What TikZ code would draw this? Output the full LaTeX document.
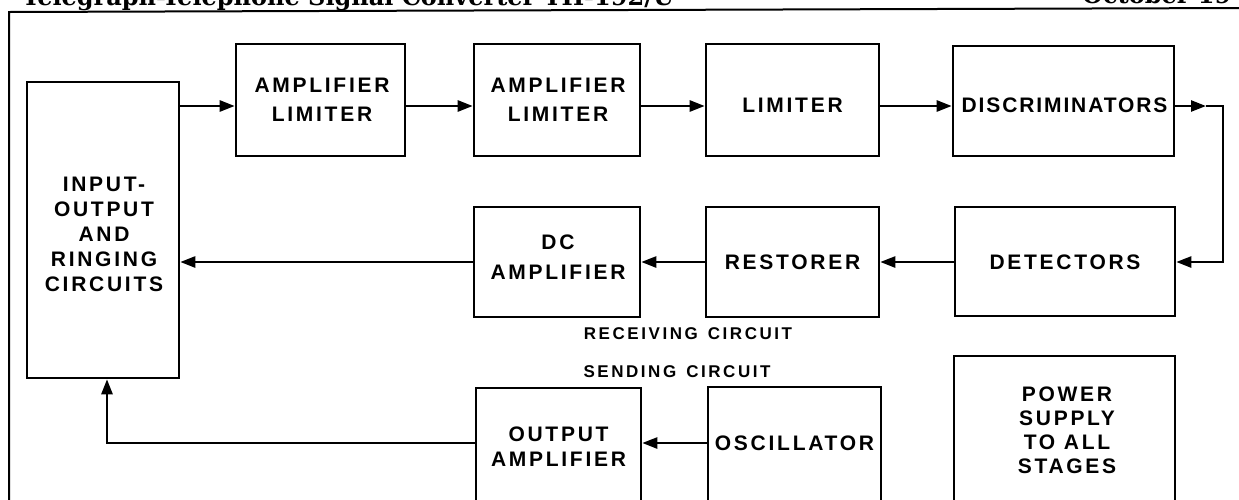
\documentclass[tikz,border=0pt]{standalone}
\usepackage{fontspec}
\usetikzlibrary{arrows.meta}
\newfontfamily\lblfont[LetterSpace=13]{Liberation Sans}
\newfontfamily\discfont[LetterSpace=9]{Liberation Sans}
\newfontfamily\smlfont[LetterSpace=15]{Liberation Sans}
\newfontfamily\headfont{DejaVu Serif}
\tikzset{
  box/.style={draw, rectangle, line width=2.6pt, inner sep=0pt},
  lbl/.style={align=center, inner sep=0pt, font=\lblfont\bfseries\fontsize{21}{#1}\selectfont},
  lbl/.default=29,
  slbl/.style={inner sep=0pt, font=\smlfont\bfseries\fontsize{17}{20}\selectfont},
  conn/.style={line width=2.5pt},
  arr/.tip={Triangle[length=15pt,width=11pt]},
  frame/.style={line width=2pt},
  head/.style={anchor=base west, inner sep=0pt, font=\headfont\bfseries\fontsize{24}{24}\selectfont}
}
\begin{document}
\begin{tikzpicture}[x=1pt,y=-1pt]
\useasboundingbox (0,0) rectangle (1239,499);
% frame
\coordinate (f1) at (9,520);
\coordinate (f2) at (9,12);
\coordinate (f3) at (1245,8);
\draw[frame] (f1) -- (f2) -- (f3);
% header (cut off at top, as in the scan)
\node[head] (hdl) at (22,5) {Telegraph-Telephone Signal Converter TH-192/U};
\node[head] (hdr) at (1082,3) {October 19};
% boxes
\node[box, minimum width=152pt, minimum height=296pt] (io) at (103,230) {};
\node[box, minimum width=169pt, minimum height=112pt] (al1) at (320.5,100) {};
\node[box, minimum width=166pt, minimum height=112pt] (al2) at (557,100) {};
\node[box, minimum width=173pt, minimum height=112pt] (lim) at (792.5,100) {};
\node[box, minimum width=221pt, minimum height=110pt] (disc) at (1063.5,101) {};
\node[box, minimum width=166pt, minimum height=110pt] (dc) at (557,262) {};
\node[box, minimum width=173pt, minimum height=110pt] (rest) at (792.5,262) {};
\node[box, minimum width=220pt, minimum height=109pt] (det) at (1065,261.5) {};
\node[box, minimum width=165pt, minimum height=130pt] (oa) at (558.5,453) {};
\node[box, minimum width=173pt, minimum height=131pt] (osc) at (794.5,452.5) {};
\node[box, minimum width=221pt, minimum height=162pt] (ps) at (1064.5,437) {};
% labels
\node[lbl=25] (io-t) at (104,234.5) {INPUT-\\OUTPUT\\AND\\RINGING\\CIRCUITS};
\node[lbl] (al1-t) at (322,100) {AMPLIFIER\\LIMITER};
\node[lbl] (al2-t) at (558,100) {AMPLIFIER\\LIMITER};
\node[lbl] (lim-t) at (792.5,105) {LIMITER};
\node[align=center, inner sep=0pt, font=\discfont\bfseries\fontsize{21}{29}\selectfont] (disc-t) at (1064.5,105) {DISCRIMINATORS};
\node[lbl=30] (dc-t) at (558,257.5) {DC\\AMPLIFIER};
\node[lbl] (rest-t) at (792.5,262.5) {RESTORER};
\node[lbl] (det-t) at (1065,262.5) {DETECTORS};
\node[lbl=25] (oa-t) at (558.5,447) {OUTPUT\\AMPLIFIER};
\node[lbl] (osc-t) at (794.5,443.5) {OSCILLATOR};
\node[lbl=24] (ps-t) at (1067,430) {POWER\\SUPPLY\\TO ALL\\STAGES};
\node[slbl] (rc) at (688,333.5) {RECEIVING\hspace{10pt}CIRCUIT};
\node[slbl] (sc) at (677,372) {SENDING\hspace{10pt}CIRCUIT};
% connector helper coordinates
\coordinate (r1) at (0,106);
\coordinate (r2) at (0,262);
\coordinate (r3) at (0,443);
\coordinate (rx) at (1223,0);
\coordinate (lx) at (107,0);
\coordinate (dm) at (1206,106);
% connectors
\draw[conn,-{arr}] (io.east |- r1) -- (al1.west |- r1);
\draw[conn,-{arr}] (al1.east |- r1) -- (al2.west |- r1);
\draw[conn,-{arr}] (al2.east |- r1) -- (lim.west |- r1);
\draw[conn,-{arr}] (lim.east |- r1) -- (disc.west |- r1);
\draw[conn,-{arr}] (disc.east |- r1) -- (dm);
\draw[conn,-{arr}] (dm) -- (rx |- r1) -- (rx |- r2) -- (det.east |- r2);
\draw[conn,-{arr}] (det.west |- r2) -- (rest.east |- r2);
\draw[conn,-{arr}] (rest.west |- r2) -- (dc.east |- r2);
\draw[conn,-{arr}] (dc.west |- r2) -- (io.east |- r2);
\draw[conn,-{arr}] (osc.west |- r3) -- (oa.east |- r3);
\draw[conn,-{arr}] (oa.west |- r3) -- (lx |- r3) -- (lx |- io.south);
\end{tikzpicture}
\end{document}
